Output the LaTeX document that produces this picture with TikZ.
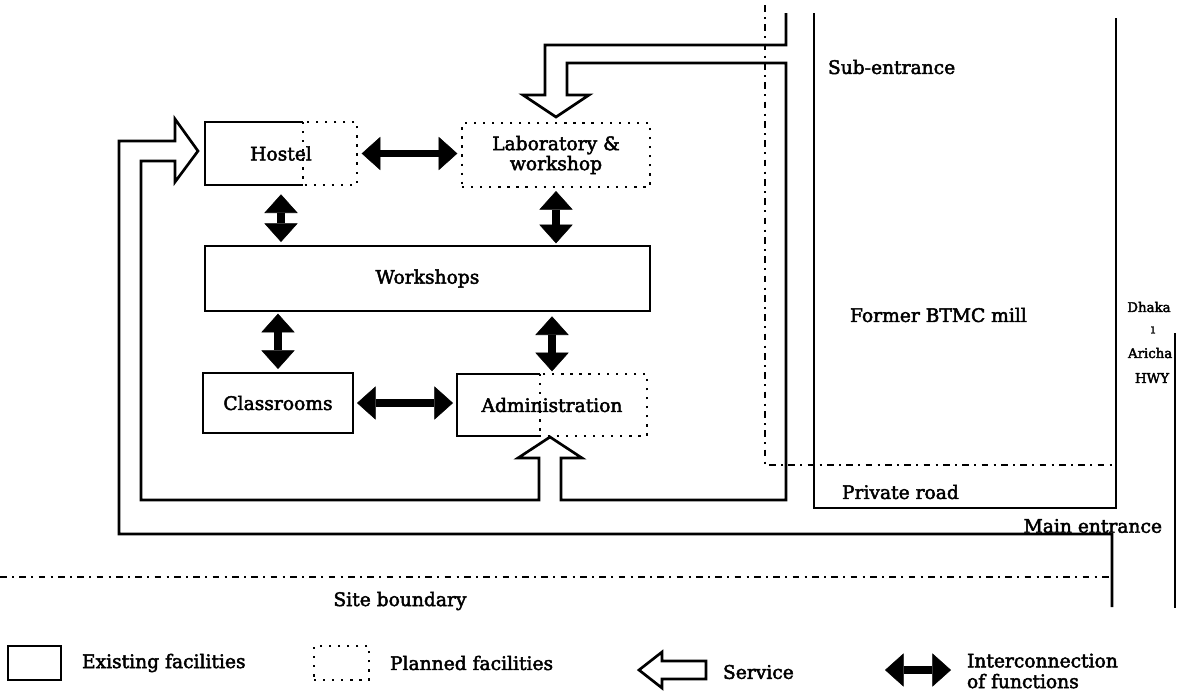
\documentclass[tikz,border=0pt]{standalone}
\usepackage{fontspec}
\setmainfont{DejaVu Serif}[FakeBold=2.5]
\usetikzlibrary{arrows.meta,fit}

\begin{document}
\begin{tikzpicture}[x=0.75pt,y=-0.75pt,
  every node/.style={font=\fontsize{14}{15}\selectfont, inner sep=0pt, outer sep=0pt},
  small/.style={font=\fontsize{10}{12}\selectfont},
  existing/.style={draw, line width=2pt},
  planned/.style={draw, line width=2pt, dash pattern=on 1.7pt off 5.1pt},
  boundary/.style={line width=1.8pt, dash pattern=on 5pt off 4pt on 1.5pt off 4pt},
  road/.style={line width=2pt},
  service/.style={draw, line width=2pt, line join=miter},
  link/.style={line width=5.5pt, >={Triangle[length=14pt,width=25pt,line width=0.4pt]}, <->},
]
\useasboundingbox (0,0) rectangle (1177,697);

% ---- facilities ----
\node[planned, fit={(205,122) (357,185)}] (hostel) {};
\draw[existing] (303,122) -- (hostel.north west) -- (hostel.south west) -- (303,185);
\node (hosteltxt) at (hostel.center) {Hostel};
\draw[planned] (303,122) -- (303,185);

\node[planned, fit={(462,123) (650,187)}] (lab) {};
\node[align=center] (labtxt) at (lab.center) {Laboratory \&\\workshop};

\node[existing, fit={(205,246) (650,311)}] (workshops) {};
\node (workshopstxt) at (workshops.center) {Workshops};

\node[existing, fit={(203,373) (353,433)}] (classrooms) {};
\node (classroomstxt) at (classrooms.center) {Classrooms};

\node[planned, fit={(457,374) (647,436)}] (admin) {};
\draw[existing] (540,374) -- (admin.north west) -- (admin.south west) -- (540,436);
\node (admintxt) at (admin.center) {Administration};
\draw[planned] (540,374) -- (540,436);

% ---- interconnection of functions ----
\draw[link, shorten <=3.5pt, shorten >=3.5pt] (hostel.east) -- (hostel.east -| lab.west);
\draw[link, shorten <=7pt, shorten >=3pt] (hostel.south -| hosteltxt.center) -- (hosteltxt.center |- workshops.north);
\draw[link, shorten <=3pt, shorten >=2pt] (lab.south) -- (lab.south |- workshops.north);
\draw[link, shorten <=2pt, shorten >=3pt] (classrooms.north |- workshops.south) -- (classrooms.north);
\draw[link, shorten <=4pt, shorten >=2pt] (admin.north |- workshops.south) -- (admin.north);
\draw[link, shorten <=3pt, shorten >=3pt] (classrooms.east) -- (classrooms.east -| admin.west);

% ---- service route ----
\draw[service] (786,13) -- (786,45) -- (545,45) -- (545,95) -- (523,95) -- (556,117)
  -- (589,95) -- (567,95) -- (567,63) -- (786,63) -- (786,500) -- (561,500)
  -- (561,458) -- (582,458) -- (550,437) -- (518,458) -- (539,458) -- (539,500)
  -- (141,500) -- (141,161) -- (175,161) -- (175,182) -- (198,151) -- (175,119)
  -- (175,141) -- (119,141) -- (119,534) -- (1112,534) -- (1112,607);

% ---- site ----
\draw[road] (814,13) -- (814,508) -- (1116,508) -- (1116,18);
\draw[road] (1175,333) -- (1175,608);
\draw[boundary] (765,5) -- (765,465) -- (1114,465);
\draw[boundary] (0,577) -- (1112,577);

\node[anchor=west] (sub) at (828,67) {Sub-entrance};
\node[anchor=west] (mill) at (850,315) {Former BTMC mill};
\node[anchor=west] (private) at (842,492) {Private road};
\node[anchor=east] (mainent) at (1162,526) {Main entrance};
\node[small] (dhaka) at (1149,307) {Dhaka};
\node[small] (dash) at (1153,330) {ı};
\node[small, anchor=west] (aricha) at (1128,353) {Aricha};
\node[small] (hwy) at (1152,378) {HWY};
\node (site) at (400,601) {Site boundary};

% ---- legend ----
\node[existing, fit={(8,646) (61,680)}] (legexist) {};
\node[anchor=west] (legexisttxt) at (82,663) {Existing facilities};
\node[planned, fit={(314,646) (369,680)}] (legplan) {};
\node[anchor=west] (legplantxt) at (390,663) {Planned facilities};
\draw[service] (706,661) -- (662,661) -- (662,652) -- (639,670) -- (662,688)
  -- (662,679) -- (706,679) -- cycle;
\node[anchor=west] (legservtxt) at (723,672) {Service};
\coordinate (linka) at (885,670);
\coordinate (linkb) at (951,670);
\draw[link] (linka) -- (linkb);
\node[anchor=west, align=left, font=\fontsize{14}{15.5}\selectfont] (leglinktxt) at (967,671) {Interconnection\\of functions};
\end{tikzpicture}
\end{document}
